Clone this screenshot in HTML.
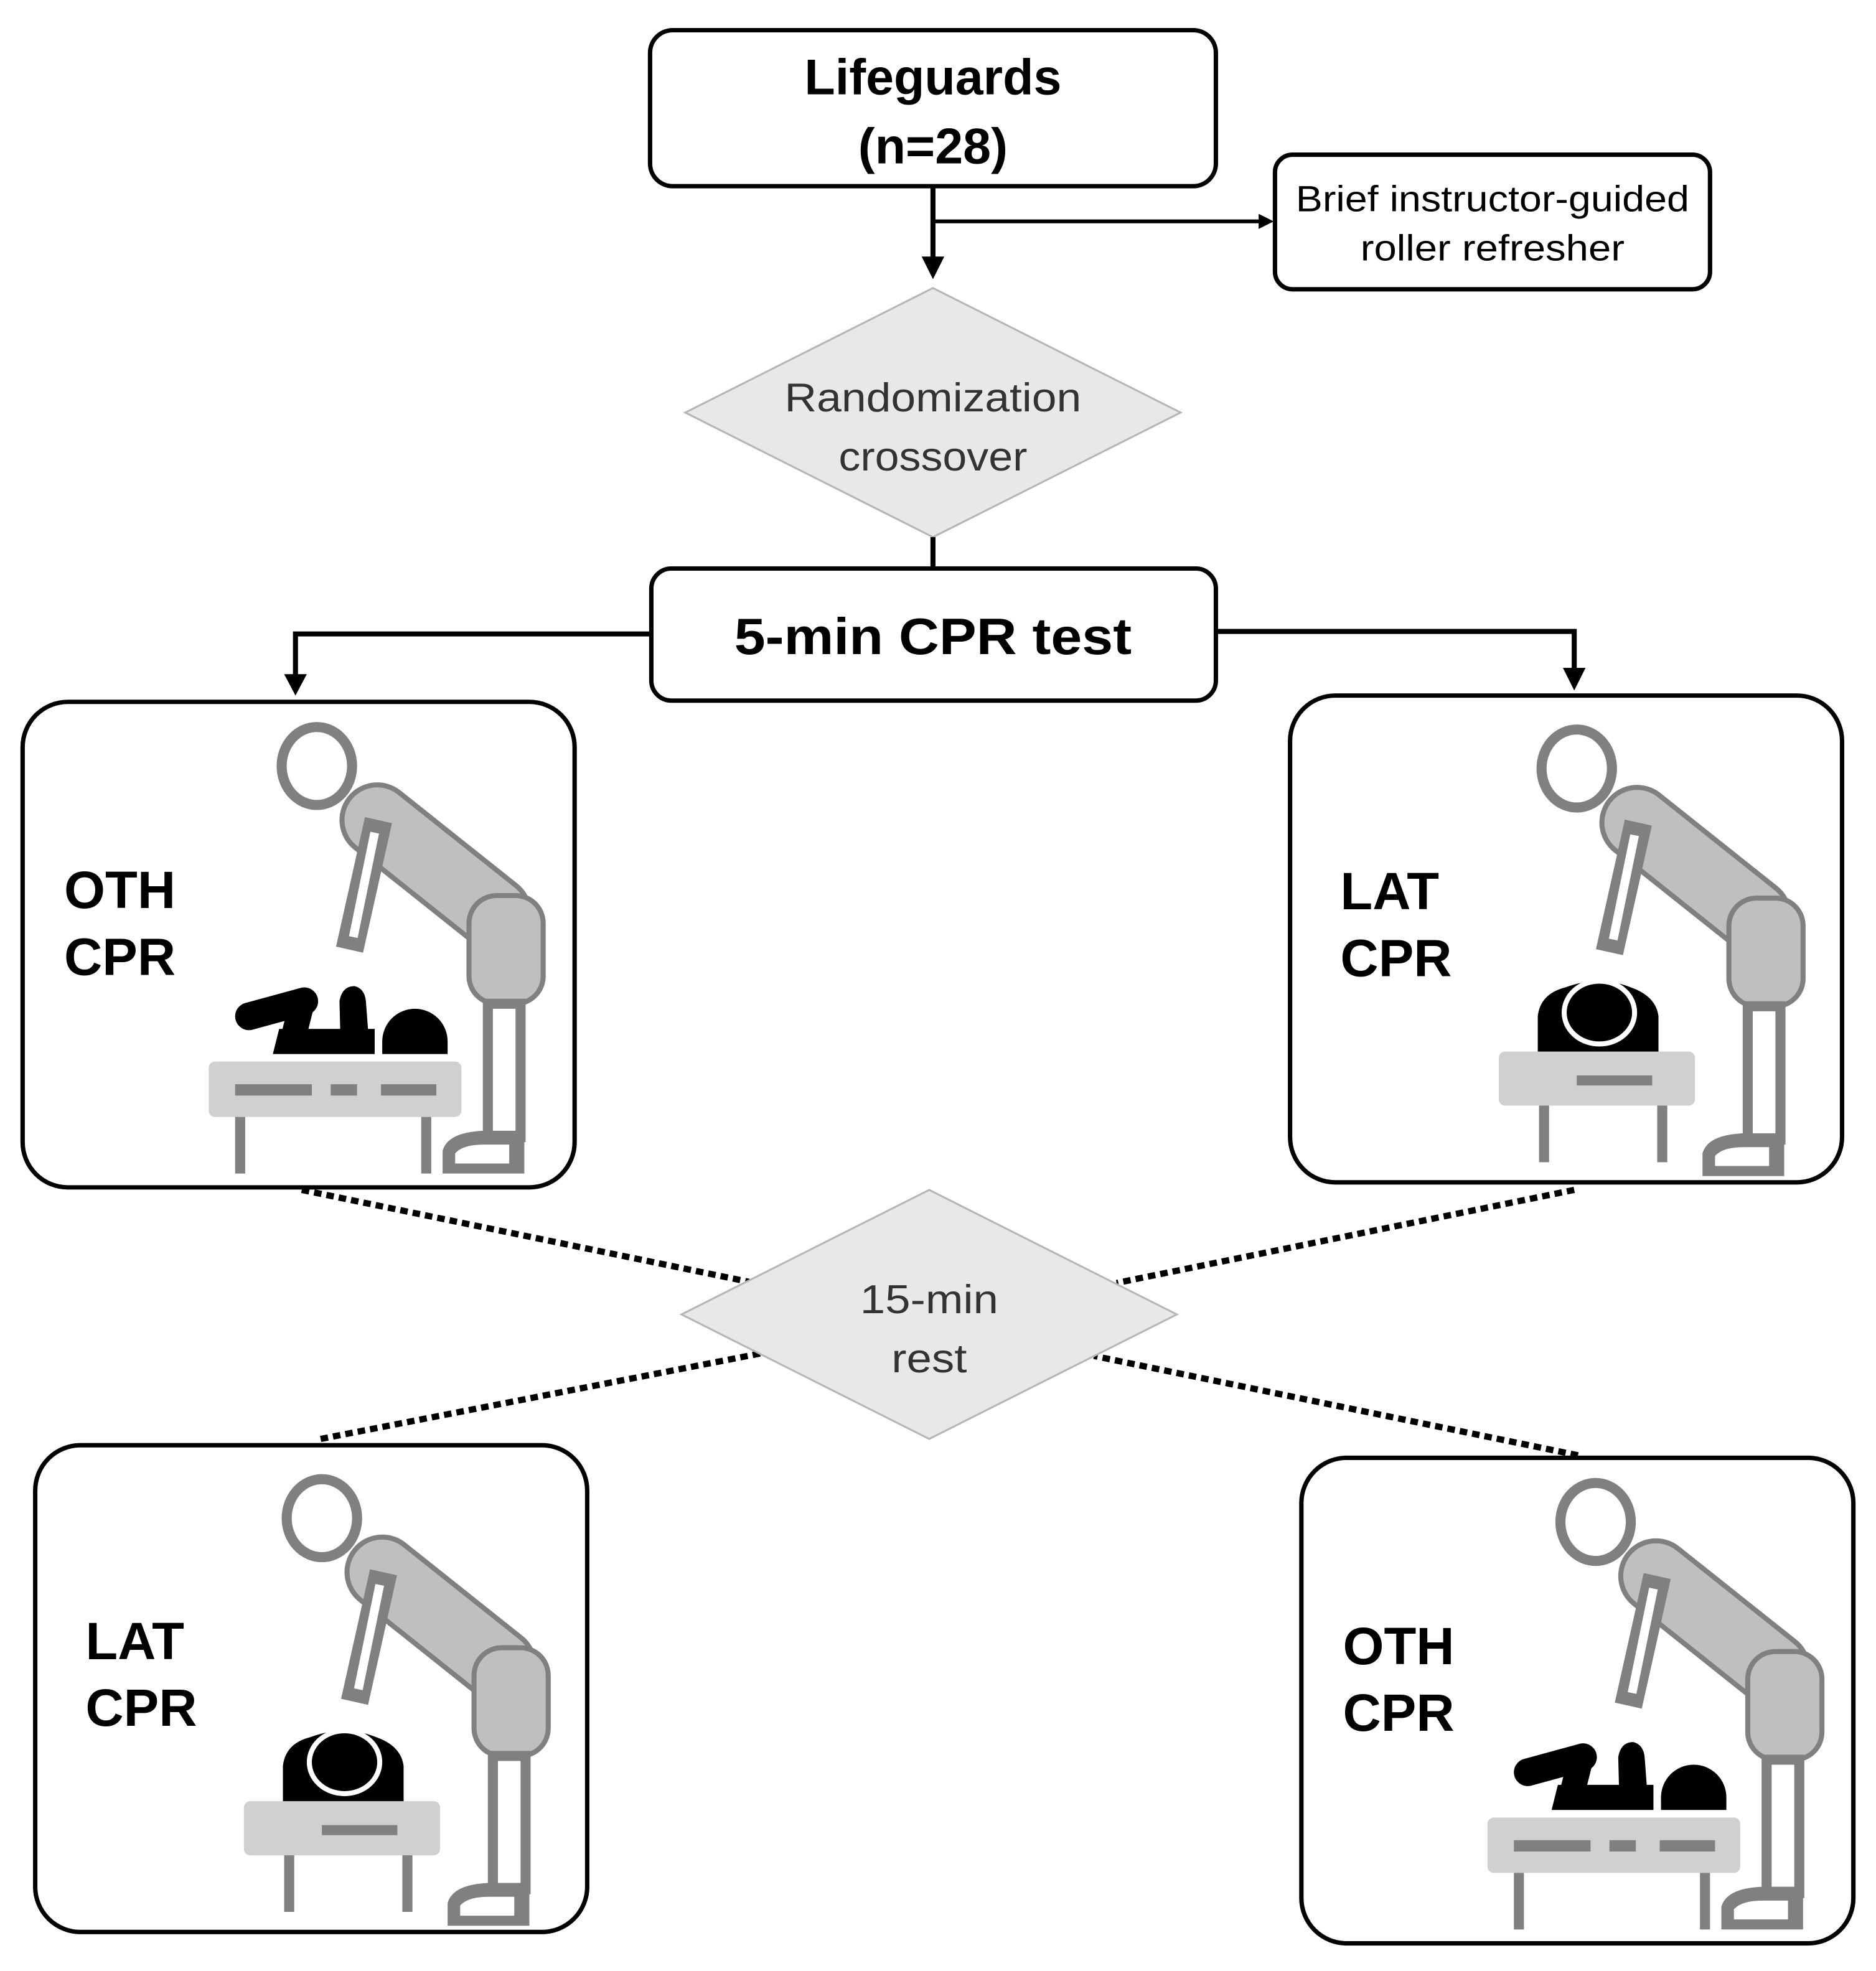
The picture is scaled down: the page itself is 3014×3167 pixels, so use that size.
<!DOCTYPE html>
<html><head><meta charset="utf-8"><style>
html,body{margin:0;padding:0;background:#fff;}
svg{display:block;}
</style></head><body>
<svg width="3014" height="3167" viewBox="0 0 1492 1567" preserveAspectRatio="none" xmlns="http://www.w3.org/2000/svg" font-family="Liberation Sans, sans-serif">
<defs>
<g id="fig">
  <ellipse cx="252" cy="609" rx="28" ry="31" fill="none" stroke="#808080" stroke-width="8"/>
  <line x1="300" y1="652" x2="393" y2="726" stroke="#808080" stroke-width="60" stroke-linecap="round"/>
  <line x1="300" y1="652" x2="393" y2="726" stroke="#bfbfbf" stroke-width="52" stroke-linecap="round"/>
  <rect x="373" y="712" width="59" height="86" rx="22" fill="#bfbfbf" stroke="#808080" stroke-width="4"/>
  <line x1="301" y1="652" x2="278" y2="755" stroke="#808080" stroke-width="22"/>
  <line x1="298" y1="662" x2="281" y2="745" stroke="#fff" stroke-width="7"/>
  <rect x="388" y="798" width="26" height="106" fill="#fff" stroke="#808080" stroke-width="8"/>
  <path d="M352 933 L352 915 Q356 900 385 899 L417 899 L417 933 Z" fill="#808080"/>
  <path d="M362 925 L362 917 Q368 910 385 910 L405 910 L405 925 Z" fill="#fff"/>
</g>
<g id="oth">
  <rect x="0" y="0" width="439" height="386" rx="36" fill="#fff" stroke="#000" stroke-width="3.5"/>
  <text x="33" y="164" font-size="42" font-weight="bold">OTH</text>
  <text x="33" y="217" font-size="42" font-weight="bold">CPR</text>
  <g transform="translate(-18,-558)">
    <use href="#fig"/>
    <rect x="166" y="844" width="201" height="44" rx="5" fill="#d0d0d0"/>
    <rect x="187" y="862" width="61" height="9" fill="#808080"/>
    <rect x="263" y="862" width="21" height="9" fill="#808080"/>
    <rect x="303" y="862" width="44" height="9" fill="#808080"/>
    <rect x="187" y="888" width="8" height="45" fill="#808080"/>
    <rect x="335" y="888" width="8" height="45" fill="#808080"/>
    <path d="M304 838 L304 828 A26 26 0 0 1 356 828 L356 838 Z" fill="#000"/>
    <path d="M217 838 L222 818 L298 818 L298 838 Z" fill="#000"/>
    <line x1="198" y1="808" x2="242" y2="796" stroke="#000" stroke-width="22" stroke-linecap="round"/>
    <line x1="240" y1="798" x2="232" y2="830" stroke="#000" stroke-width="20"/>
    <path d="M271 836 L270 796 Q272 784 282 784 Q290 786 291 796 L294 836 Z" fill="#000"/>
  </g>
</g>
<g id="lat">
  <rect x="0" y="0" width="439" height="387" rx="36" fill="#fff" stroke="#000" stroke-width="3.5"/>
  <text x="40" y="170" font-size="42" font-weight="bold">LAT</text>
  <text x="40" y="223" font-size="42" font-weight="bold">CPR</text>
  <g transform="translate(-1026,-553)">
    <use href="#fig" transform="translate(1002,2)"/>
    <rect x="1192" y="836" width="156" height="43" rx="5" fill="#d0d0d0"/>
    <rect x="1254" y="855" width="60" height="8" fill="#808080"/>
    <rect x="1224" y="879" width="8" height="45" fill="#808080"/>
    <rect x="1318" y="879" width="8" height="45" fill="#808080"/>
    <path d="M1223 836 L1223 808 Q1225 790 1245 785 Q1272 775 1297 785 Q1317 792 1319 808 L1319 836 Z" fill="#000"/>
    <ellipse cx="1272" cy="805" rx="28" ry="25" fill="#000" stroke="#fff" stroke-width="4"/>
  </g>
</g>
</defs>

<rect x="517" y="24" width="450" height="124" rx="18" fill="#fff" stroke="#000" stroke-width="3.5"/>
<text x="742" y="75" font-size="40" font-weight="bold" text-anchor="middle">Lifeguards</text>
<text x="742" y="130" font-size="40" font-weight="bold" text-anchor="middle">(n=28)</text>

<line x1="742" y1="148" x2="742" y2="206" stroke="#000" stroke-width="4"/>
<polygon points="733,204 751,204 742,222" fill="#000"/>
<line x1="742" y1="176" x2="1003" y2="176" stroke="#000" stroke-width="3"/>
<polygon points="1001,170 1013,176 1001,182" fill="#000"/>

<rect x="1014" y="123" width="346" height="107" rx="14" fill="#fff" stroke="#000" stroke-width="3.5"/>
<text x="1187" y="168" font-size="29" text-anchor="middle" textLength="313" lengthAdjust="spacingAndGlyphs">Brief instructor-guided</text>
<text x="1187" y="207" font-size="29" text-anchor="middle" textLength="210" lengthAdjust="spacingAndGlyphs">roller refresher</text>

<polygon points="742,229 939,328 742,427 545,328" fill="#e8e8e8" stroke="#b5b5b5" stroke-width="1.5"/>
<text x="742" y="327" font-size="32" fill="#333" text-anchor="middle" textLength="236" lengthAdjust="spacingAndGlyphs">Randomization</text>
<text x="742" y="374" font-size="32" fill="#333" text-anchor="middle" textLength="150" lengthAdjust="spacingAndGlyphs">crossover</text>
<line x1="742" y1="427" x2="742" y2="452" stroke="#000" stroke-width="4"/>

<rect x="518" y="452" width="449" height="105" rx="16" fill="#fff" stroke="#000" stroke-width="3.5"/>
<text x="742" y="520" font-size="41" font-weight="bold" text-anchor="middle" textLength="316" lengthAdjust="spacingAndGlyphs">5-min CPR test</text>

<polyline points="518,504 235,504 235,538" fill="none" stroke="#000" stroke-width="4"/>
<polygon points="226,536 244,536 235,553" fill="#000"/>
<polyline points="967,502 1252,502 1252,533" fill="none" stroke="#000" stroke-width="4"/>
<polygon points="1243,531 1261,531 1252,549" fill="#000"/>

<g stroke="#000" stroke-width="5" stroke-dasharray="6,4" fill="none">
<line x1="240" y1="946" x2="600" y2="1020"/>
<line x1="1252" y1="946" x2="888" y2="1020"/>
<line x1="255" y1="1144" x2="605" y2="1076"/>
<line x1="1255" y1="1157" x2="870" y2="1078"/>
</g>

<polygon points="739,946 936,1045 739,1144 542,1045" fill="#e8e8e8" stroke="#b5b5b5" stroke-width="1.5"/>
<text x="739" y="1044" font-size="32" fill="#333" text-anchor="middle" textLength="110" lengthAdjust="spacingAndGlyphs">15-min</text>
<text x="739" y="1091" font-size="32" fill="#333" text-anchor="middle" textLength="60" lengthAdjust="spacingAndGlyphs">rest</text>

<use href="#oth" transform="translate(18,558)"/>
<use href="#lat" transform="translate(1026,553)"/>
<use href="#lat" transform="translate(28,1149)"/>
<use href="#oth" transform="translate(1035,1159)"/>
</svg>
</body></html>
